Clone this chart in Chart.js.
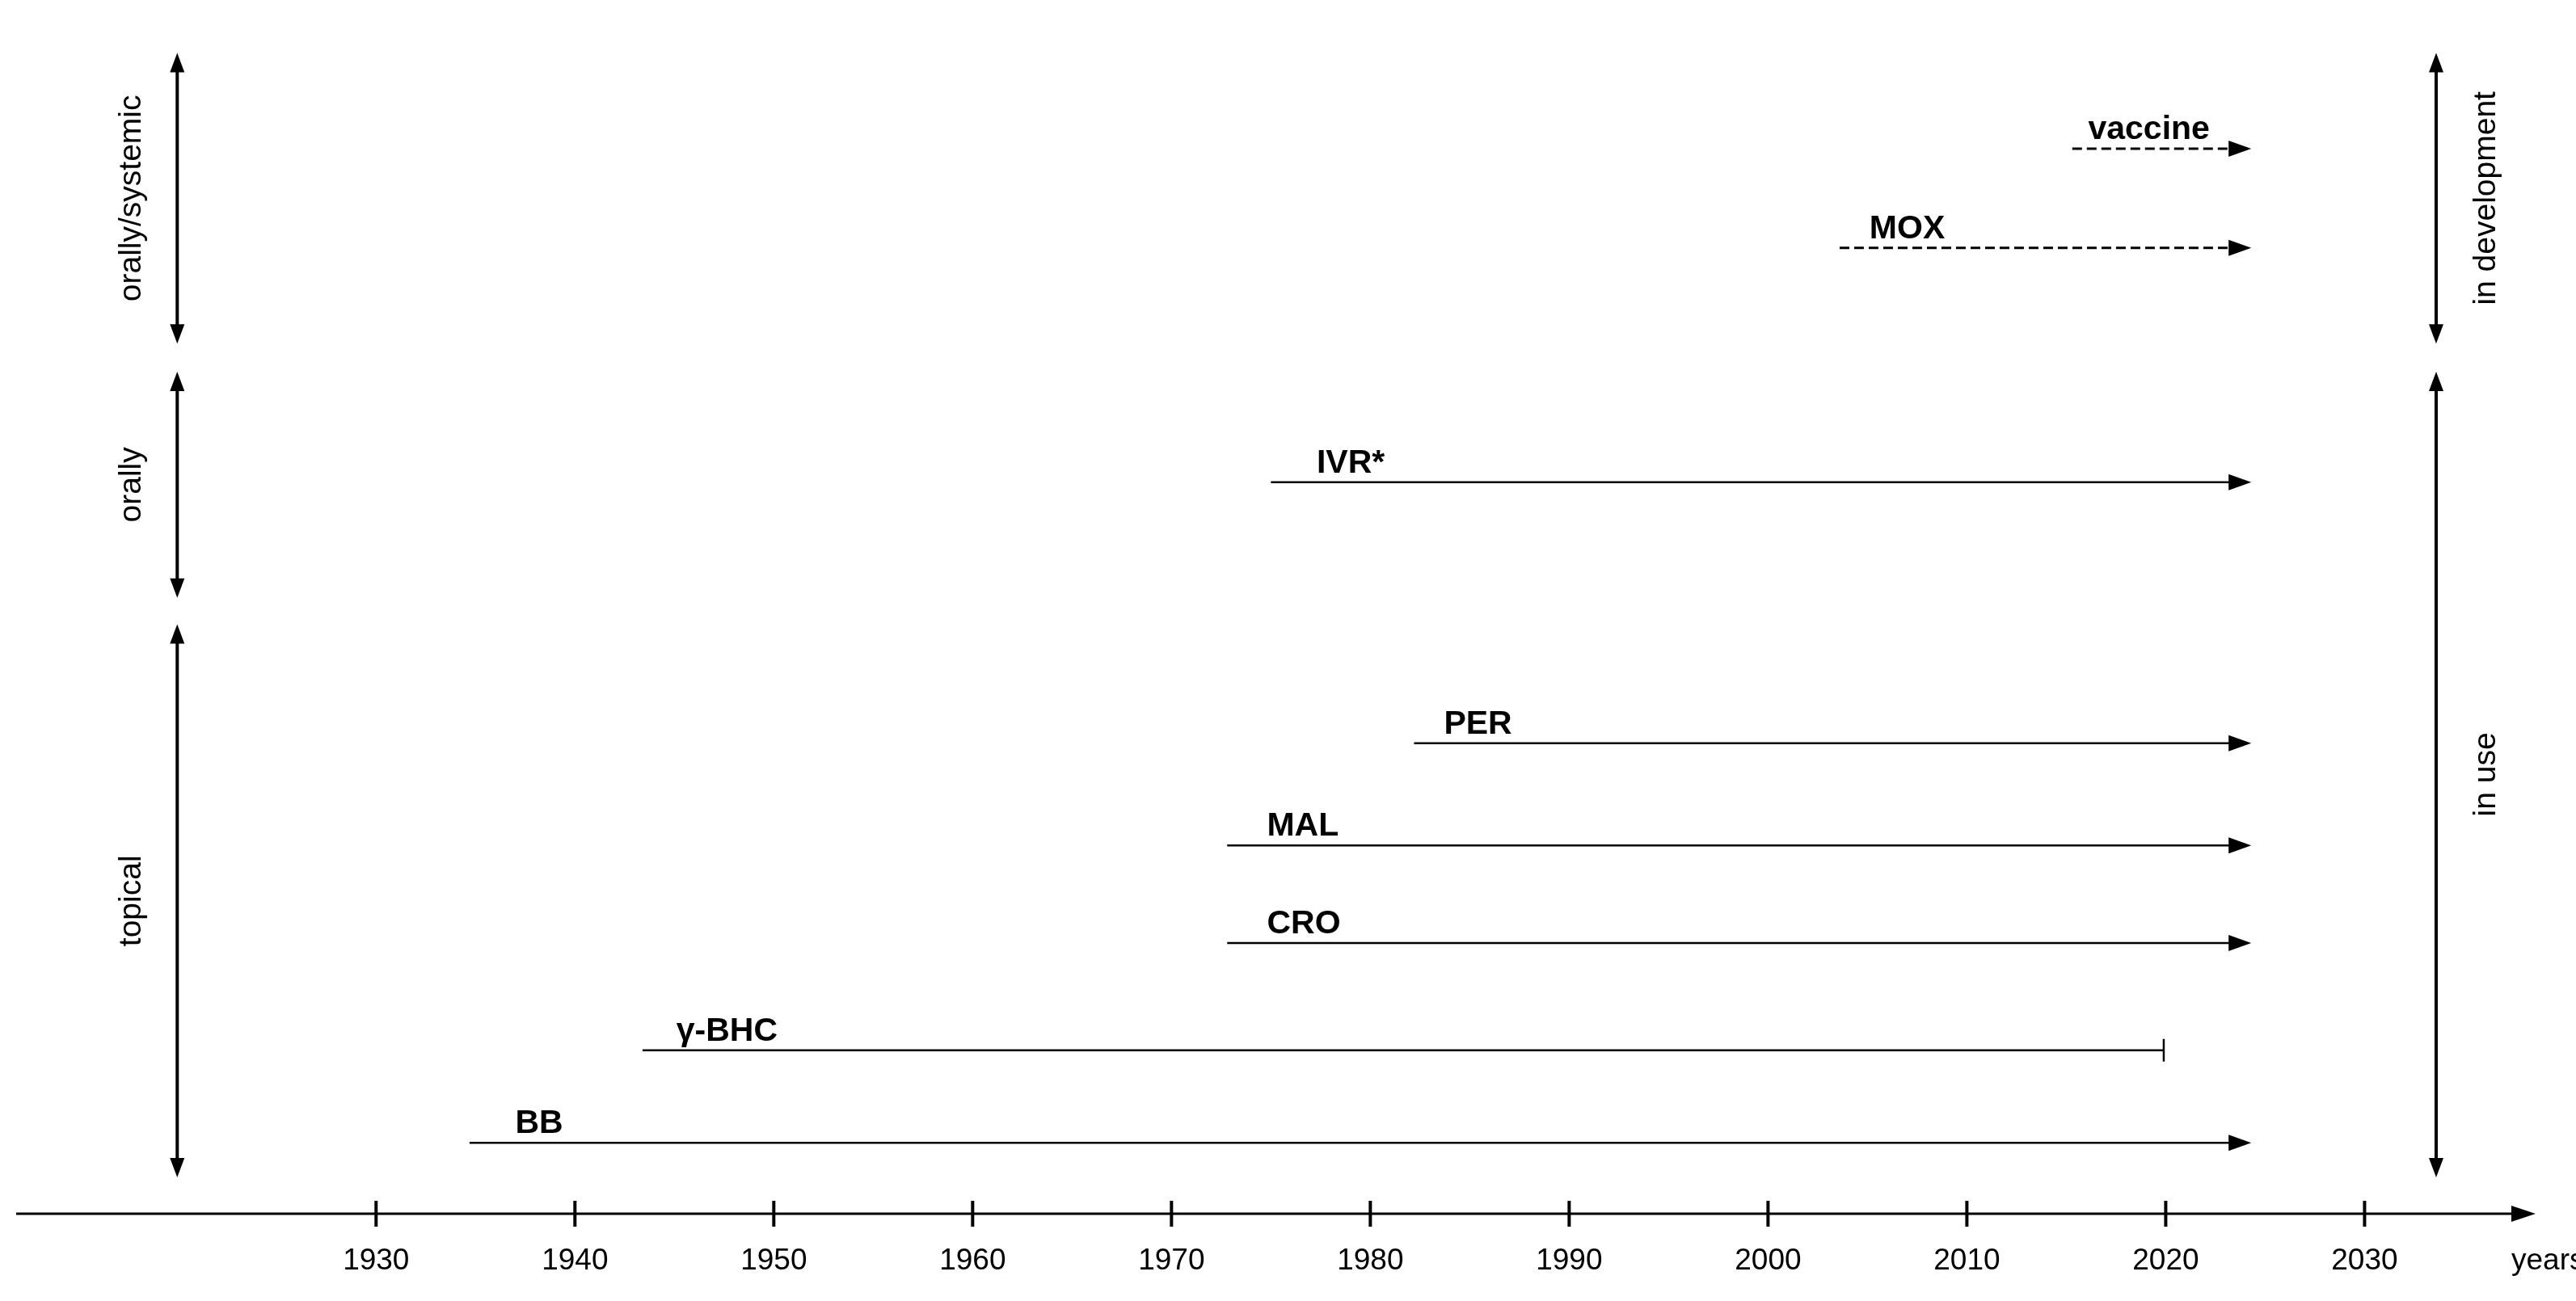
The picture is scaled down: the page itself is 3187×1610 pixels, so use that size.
<!DOCTYPE html>
<html>
<head>
<meta charset="utf-8">
<script src="https://cdn.jsdelivr.net/npm/chart.js@4"></script>
<style>
html, body { margin: 0; padding: 0; background: #fff; }
#wrap { width: 3187px; height: 1610px; }
</style>
</head>
<body>
<div id="wrap"><canvas id="timeline"></canvas></div>
<script>
// drug timelines: start year, end year, vertical level (axis units)
const drugs = ['vaccine', 'MOX', 'IVR*', 'PER', 'MAL', 'CRO', 'γ-BHC', 'BB'];
const startYears = [2015.3, 2003.6, 1975.0, 1982.2, 1972.8, 1972.8, 1943.4, 1934.7];
const endYears = [2024.3, 2024.3, 2024.3, 2024.3, 2024.3, 2024.3, 2019.9, 2024.3];
const labelYears = [2016.1, 2005.1, 1977.3, 1983.7, 1974.8, 1974.8, 1945.1, 1937.0];
const levels = [64.5, 58.5, 44.3, 28.5, 22.3, 16.4, 9.9, 4.3];
const dashed = [true, true, false, false, false, false, false, false];
const ongoing = [true, true, true, true, true, true, false, true];

const tickYears = [1930, 1940, 1950, 1960, 1970, 1980, 1990, 2000, 2010, 2020, 2030];

// route groups (left) and status groups (right): [label, top, bottom]
const routeLabels = ['orally/systemic', 'orally', 'topical'];
const routeRanges = [[70.3, 52.7], [51.0, 37.3], [35.7, 2.2]];
const statusLabels = ['in development', 'in use'];
const statusRanges = [[70.3, 52.7], [51.0, 2.2]];
const routeYear = 1920.0;
const statusYear = 2033.6;

const FONT = '"Liberation Sans", Arial, sans-serif';

function arrowHead(ctx, x, y, dir, len, half) {
	// dir: 'r', 'u', 'd'
	ctx.beginPath();
	if (dir === 'r') {
		ctx.moveTo(x, y); ctx.lineTo(x - len, y - half); ctx.lineTo(x - len, y + half);
	} else if (dir === 'u') {
		ctx.moveTo(x, y); ctx.lineTo(x - half, y + len); ctx.lineTo(x + half, y + len);
	} else {
		ctx.moveTo(x, y); ctx.lineTo(x - half, y - len); ctx.lineTo(x + half, y - len);
	}
	ctx.closePath();
	ctx.fill();
}

function vArrow(ctx, x, y1, y2) {
	ctx.lineWidth = 4;
	ctx.beginPath();
	ctx.moveTo(x, y1 + 20); ctx.lineTo(x, y2 - 20);
	ctx.stroke();
	arrowHead(ctx, x, y1, 'u', 24, 9);
	arrowHead(ctx, x, y2, 'd', 24, 9);
}

const decorPlugin = {
	id: 'decor',
	afterDatasetsDraw(chart) {
		const { ctx, scales: { x, y }, chartArea } = chart;
		ctx.save();
		ctx.fillStyle = '#000';
		ctx.strokeStyle = '#000';

		// horizontal time axis
		const ay = y.getPixelForValue(0);
		ctx.lineWidth = 3;
		ctx.beginPath();
		ctx.moveTo(chartArea.left, ay); ctx.lineTo(chartArea.right - 20, ay);
		ctx.stroke();
		arrowHead(ctx, chartArea.right, ay, 'r', 30, 10);
		ctx.font = '37px ' + FONT;
		ctx.textAlign = 'center';
		ctx.textBaseline = 'top';
		tickYears.forEach((yr) => {
			const px = x.getPixelForValue(yr);
			ctx.lineWidth = 4;
			ctx.beginPath();
			ctx.moveTo(px, ay - 16); ctx.lineTo(px, ay + 16);
			ctx.stroke();
			ctx.fillText(String(yr), px, ay + 40);
		});
		ctx.textAlign = 'left';
		ctx.fillText('years', chartArea.right - 30, ay + 40);

		// timeline ends and labels
		drugs.forEach((name, i) => {
			const py = y.getPixelForValue(levels[i]);
			const ex = x.getPixelForValue(endYears[i]);
			if (ongoing[i]) {
				arrowHead(ctx, ex, py, 'r', 28, 10);
			} else {
				ctx.lineWidth = 2.5;
				ctx.beginPath();
				ctx.moveTo(ex, py - 14); ctx.lineTo(ex, py + 14);
				ctx.stroke();
			}
			ctx.font = 'bold 41px ' + FONT;
			ctx.textAlign = 'left';
			ctx.textBaseline = 'alphabetic';
			ctx.fillText(name, x.getPixelForValue(labelYears[i]), py - 12);
		});

		// side group arrows
		ctx.font = '39px ' + FONT;
		ctx.textAlign = 'center';
		ctx.textBaseline = 'middle';
		const drawGroup = (labels, ranges, yr, offset) => {
			const px = x.getPixelForValue(yr);
			labels.forEach((lab, i) => {
				const y1 = y.getPixelForValue(ranges[i][0]);
				const y2 = y.getPixelForValue(ranges[i][1]);
				vArrow(ctx, px, y1, y2);
				ctx.save();
				ctx.translate(px + offset, (y1 + y2) / 2);
				ctx.rotate(-Math.PI / 2);
				ctx.fillText(lab, 0, 0);
				ctx.restore();
			});
		};
		drawGroup(routeLabels, routeRanges, routeYear, -56);
		drawGroup(statusLabels, statusRanges, statusYear, 62);
		ctx.restore();
	},
};

const datasets = drugs.map((name, i) => ({
	label: name,
	data: [
		{ x: startYears[i], y: levels[i] },
		{ x: endYears[i] - (ongoing[i] ? 0.8 : 0), y: levels[i] },
	],
	showLine: true,
	borderColor: '#000',
	borderWidth: dashed[i] ? 3 : 2.5,
	borderDash: dashed[i] ? [12, 6] : [],
	pointRadius: 0,
}));

new Chart(document.getElementById('timeline'), {
	type: 'scatter',
	data: { datasets },
	options: {
		responsive: true,
		maintainAspectRatio: false,
		animation: false,
		layout: { padding: { left: 20, right: 50, top: 41, bottom: 108 } },
		plugins: { legend: { display: false }, tooltip: { enabled: false } },
		scales: {
			x: { type: 'linear', min: 1911.9, max: 2038.6, display: false },
			y: { type: 'linear', min: 0, max: 71.5, display: false },
		},
	},
	plugins: [decorPlugin],
});
</script>
</body>
</html>
